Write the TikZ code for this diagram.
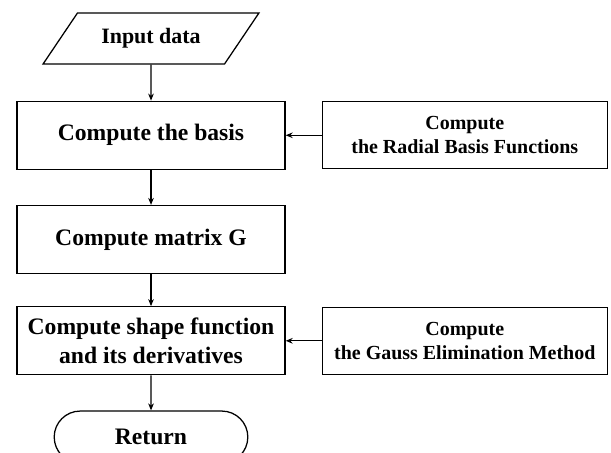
\documentclass[tikz,border=0pt]{standalone}
\usepackage{fontspec}
\setmainfont{Liberation Serif}
\usetikzlibrary{shapes.geometric, shapes.misc, arrows.meta, positioning}

\begin{document}
\begin{tikzpicture}[node distance=0.875cm, line width=0.9pt, >={Stealth[length=5pt, width=4pt]},
  font=\bfseries\fontsize{16.8}{20.6}\selectfont,
  procbox/.style={draw, minimum width=6.7cm, minimum height=1.7cm, align=center},
  subbox/.style={draw, minimum width=7.125cm, minimum height=1.675cm, align=center, font=\bfseries\fontsize{14.2}{17}\selectfont}]
  \useasboundingbox (0,0) rectangle (15.275,-11.325);

  \node (input) [draw, trapezium, trapezium left angle=49, trapezium right angle=131, trapezium stretches=true, minimum width=5.4cm, minimum height=1.275cm, font=\bfseries\fontsize{15.6}{19}\selectfont] at (3.775,-0.9625) {Input data};
  \node (basis) [procbox, below=0.9cm of input] {Compute the basis};
  \node (matG) [procbox, below=of basis] {Compute matrix G};
  \node (shapefn) [procbox, below=0.8cm of matG] {Compute shape function\\and its derivatives};
  \node (ret) [draw, rounded rectangle, minimum width=5.075cm, minimum height=1.3cm, below=of shapefn] {Return};

  \node (rbf) [subbox, right=0.9cm of basis] {Compute\\the Radial Basis Functions};
  \node (gauss) [subbox, right=0.9cm of shapefn] {Compute\\the Gauss Elimination Method};

  \draw[->] (input) -- (basis);
  \draw[->] (basis) -- (matG);
  \draw[->] (matG) -- (shapefn);
  \draw[->] (shapefn) -- (ret);
  \draw[->] (rbf) -- (basis);
  \draw[->] (gauss) -- (shapefn);
\end{tikzpicture}
\end{document}
